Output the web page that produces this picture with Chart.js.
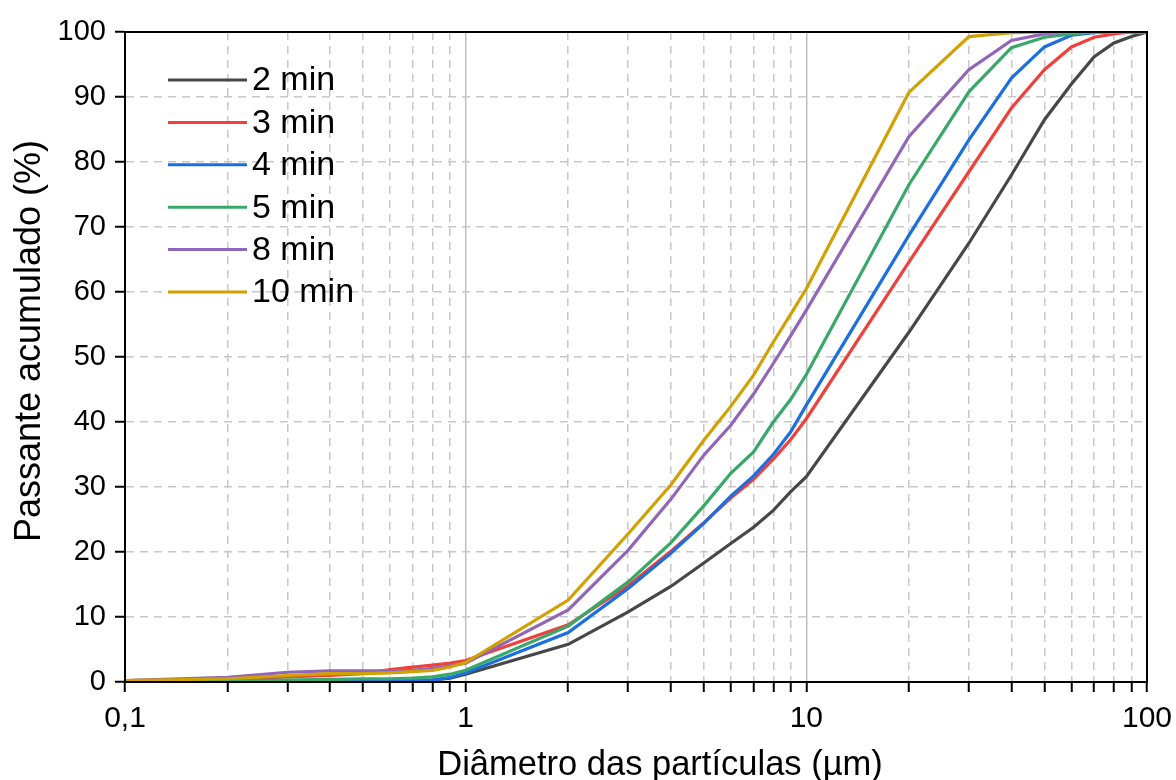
<!DOCTYPE html>
<html>
<head>
<meta charset="utf-8">
<script src="https://cdn.jsdelivr.net/npm/chart.js@4.4.1/dist/chart.umd.min.js"></script>
<style>
  html, body { margin: 0; padding: 0; background: #fff; }
  #wrap { width: 1176px; height: 780px; }
</style>
</head>
<body>
<div id="wrap"><canvas id="chart" width="1176" height="780"></canvas></div>
<script>
const sizes = [0.1, 0.2, 0.3, 0.4, 0.5, 0.6, 0.7, 0.8, 0.9, 1, 2, 3, 4, 5, 6, 7, 8, 9, 10, 20, 30, 40, 50, 60, 70, 80, 90, 100];

const min2 = [0.1, 0.1, 0.1, 0.1, 0.1, 0.1, 0.1, 0.3, 0.6, 1.2, 5.8, 10.8, 14.7, 18.3, 21.3, 23.8, 26.4, 29.3, 31.6, 53.8, 67.5, 78.0, 86.5, 92.0, 96.2, 98.3, 99.3, 100];
const min3 = [0.2, 0.4, 0.8, 1.0, 1.3, 1.9, 2.3, 2.6, 2.9, 3.3, 8.8, 14.8, 20.1, 24.5, 28.3, 31.2, 34.3, 37.3, 40.5, 64.6, 78.5, 88.3, 94.2, 97.7, 99.2, 99.7, 100, 100];
const min4 = [0.1, 0.1, 0.1, 0.1, 0.1, 0.2, 0.2, 0.3, 0.7, 1.4, 7.6, 14.4, 19.8, 24.4, 28.6, 31.7, 35.0, 38.5, 42.6, 68.7, 83.4, 92.9, 97.7, 99.5, 99.9, 100, 100, 100];
const min5 = [0.1, 0.2, 0.3, 0.4, 0.5, 0.5, 0.6, 0.8, 1.2, 1.8, 8.6, 15.4, 21.4, 27.1, 32.1, 35.4, 40.0, 43.5, 47.3, 76.5, 90.8, 97.6, 99.2, 99.7, 100, 100, 100, 100];
const min8 = [0.2, 0.7, 1.5, 1.7, 1.7, 1.7, 1.8, 2.1, 2.5, 2.9, 11.1, 20.3, 28.1, 34.9, 39.5, 44.3, 49.0, 53.3, 57.2, 83.9, 94.2, 98.7, 99.7, 100, 100, 100, 100, 100];
const min10 = [0.2, 0.5, 1.0, 1.3, 1.3, 1.4, 1.6, 1.8, 2.3, 3.0, 12.6, 22.8, 30.3, 37.2, 42.4, 47.2, 52.3, 56.6, 60.5, 90.7, 99.3, 99.9, 100, 100, 100, 100, 100, 100];

const seriesLabels = ['2 min', '3 min', '4 min', '5 min', '8 min', '10 min'];
const seriesValues = [min2, min3, min4, min5, min8, min10];
const seriesColors = ['#474747', '#f0403c', '#1c6fe0', '#38a868', '#9166b8', '#d2a000'];

const xTickValues = [0.1, 0.2, 0.3, 0.4, 0.5, 0.6, 0.7, 0.8, 0.9,
  1, 2, 3, 4, 5, 6, 7, 8, 9,
  10, 20, 30, 40, 50, 60, 70, 80, 90, 100];
const xMajorTicks = [0.1, 1, 10, 100];
const xTickLabels = ['0,1', '1', '10', '100'];

const xTitle = 'Diâmetro das partículas (µm)';
const yTitle = 'Passante acumulado (%)';

const FONT = '"Liberation Sans", Arial, sans-serif';

// legend drawn inside the plot, top-left, like the original
const insideLegend = {
  id: 'insideLegend',
  afterDatasetsDraw(chart) {
    const ctx = chart.ctx;
    const area = chart.chartArea;
    ctx.save();
    ctx.font = '34px ' + FONT;
    ctx.textBaseline = 'middle';
    ctx.fillStyle = '#000';
    chart.data.datasets.forEach((ds, i) => {
      const y = area.top + 48 + i * 42.4;
      ctx.strokeStyle = ds.borderColor;
      ctx.lineWidth = 3;
      ctx.beginPath();
      ctx.moveTo(area.left + 43, y);
      ctx.lineTo(area.left + 122, y);
      ctx.stroke();
      ctx.fillText(ds.label, area.left + 127, y + 1);
    });
    ctx.restore();
  }
};

// black frame round the plot + axis titles
const frame = {
  id: 'frame',
  afterDraw(chart) {
    const a = chart.chartArea;
    const ctx = chart.ctx;
    ctx.save();
    ctx.strokeStyle = '#000';
    ctx.lineWidth = 2;
    ctx.strokeRect(a.left, a.top, a.right - a.left, a.bottom - a.top);

    ctx.fillStyle = '#000';
    ctx.textAlign = 'center';
    ctx.textBaseline = 'middle';
    ctx.font = '34.5px ' + FONT;
    ctx.fillText(xTitle, 660, 765);

    ctx.translate(30, 341);
    ctx.rotate(-Math.PI / 2);
    ctx.font = '36px ' + FONT;
    ctx.fillText(yTitle, 0, 0);
    ctx.restore();
  }
};

const datasets = seriesLabels.map((label, i) => ({
  label: label,
  data: sizes.map((s, k) => ({ x: s, y: seriesValues[i][k] })),
  borderColor: seriesColors[i],
  backgroundColor: seriesColors[i],
  borderWidth: 3.2,
  pointRadius: 0,
  tension: 0,
  order: seriesLabels.length - i
}));

new Chart(document.getElementById('chart'), {
  type: 'line',
  data: { datasets: datasets },
  options: {
    responsive: false,
    animation: false,
    layout: { padding: { top: 32, right: 29, left: 0, bottom: 0 } },
    plugins: {
      legend: { display: false },
      tooltip: { enabled: false }
    },
    scales: {
      x: {
        type: 'logarithmic',
        min: 0.1,
        max: 100,
        afterBuildTicks: (scale) => {
          scale.ticks = xTickValues.map(v => ({ value: v, major: xMajorTicks.includes(v) }));
        },
        afterFit: (scale) => {
          scale.height = 98;
          scale.paddingRight = 0;
          scale.paddingLeft = 0;
        },
        ticks: {
          autoSkip: false,
          maxRotation: 0,
          padding: 9,
          color: '#000',
          font: { family: FONT, size: 30 },
          callback: (value) => {
            const k = xMajorTicks.indexOf(value);
            return k >= 0 ? xTickLabels[k] : '';
          }
        },
        grid: {
          color: (ctx) => (ctx.tick && (ctx.tick.value === 1 || ctx.tick.value === 10)) ? '#c0c0c0' : '#c8c8c8',
          lineWidth: 1.5,
          tickColor: '#000',
          tickLength: 10,
          tickWidth: 2
        },
        border: {
          color: '#000',
          width: 2,
          dash: (ctx) => (ctx.tick && !xMajorTicks.includes(ctx.tick.value)) ? [8, 6] : []
        },
        title: { display: false }
      },
      y: {
        min: 0,
        max: 100,
        afterFit: (scale) => { scale.width = 125; },
        ticks: {
          stepSize: 10,
          padding: 9,
          color: '#000',
          font: { family: FONT, size: 29 }
        },
        grid: {
          color: '#c8c8c8',
          lineWidth: 1.5,
          tickColor: '#000',
          tickLength: 10,
          tickWidth: 2
        },
        border: {
          color: '#000',
          width: 2,
          dash: (ctx) => ctx.tick ? [8, 6] : []
        },
        title: { display: false }
      }
    }
  },
  plugins: [insideLegend, frame]
});
</script>
</body>
</html>
